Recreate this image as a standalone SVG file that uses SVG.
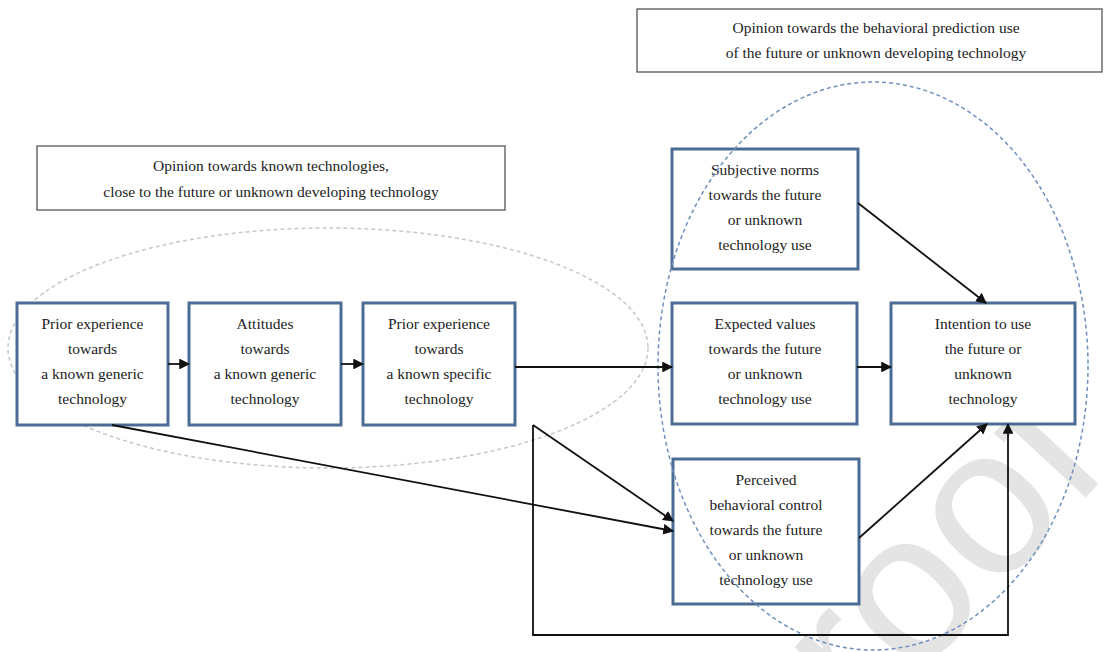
<svg xmlns="http://www.w3.org/2000/svg" width="1106" height="652" viewBox="0 0 1106 652">
<defs>
<style>
.node{fill:#ffffff;stroke:#4d6c95;stroke-width:3}
.hdr{fill:#ffffff;stroke:#555555;stroke-width:1.3}
.t{font-family:"Liberation Serif","Times New Roman",serif;font-size:15.5px;fill:#222222;text-anchor:middle}
.c{fill:none;stroke:#111111;stroke-width:1.8}
.wm{font-family:"Liberation Sans",Arial,sans-serif;font-size:210px;fill:#e4e4e4}
</style>
<marker id="ah" viewBox="0 0 10 10" refX="9" refY="5" markerWidth="6" markerHeight="6" orient="auto" markerUnits="strokeWidth">
<path d="M0,0 L10,5 L0,10 z" fill="#111111"/>
</marker>
</defs>
<rect width="1106" height="652" fill="#ffffff"/>
<text class="wm" transform="translate(866,733) rotate(-47)">roof</text>

<g id="group-known">
<rect class="hdr" x="37" y="146" width="468" height="64"/>
<text class="t" x="271" y="171">Opinion towards known technologies,</text>
<text class="t" x="271" y="197">close to the future or unknown developing technology</text>
<ellipse cx="328" cy="348" rx="320" ry="120" fill="none" stroke="#c4c8cc" stroke-width="1.5" stroke-dasharray="4 3"/>
</g>

<g id="group-future">
<rect class="hdr" x="637" y="9" width="465" height="63"/>
<text class="t" x="876" y="33">Opinion towards the behavioral prediction use</text>
<text class="t" x="876" y="58">of the future or unknown developing technology</text>
</g>

<g id="n1">
<rect class="node" x="17" y="303" width="151" height="122"/>
<text class="t" x="92.5" y="329">Prior experience</text>
<text class="t" x="92.5" y="354">towards</text>
<text class="t" x="92.5" y="379">a known generic</text>
<text class="t" x="92.5" y="404">technology</text>
</g>
<g id="n2">
<rect class="node" x="189" y="303" width="152" height="122"/>
<text class="t" x="265" y="329">Attitudes</text>
<text class="t" x="265" y="354">towards</text>
<text class="t" x="265" y="379">a known generic</text>
<text class="t" x="265" y="404">technology</text>
</g>
<g id="n3">
<rect class="node" x="363" y="303" width="152" height="122"/>
<text class="t" x="439" y="329">Prior experience</text>
<text class="t" x="439" y="354">towards</text>
<text class="t" x="439" y="379">a known specific</text>
<text class="t" x="439" y="404">technology</text>
</g>
<g id="n4">
<rect class="node" x="672" y="149" width="186" height="120"/>
<text class="t" x="765" y="175">Subjective norms</text>
<text class="t" x="765" y="200">towards the future</text>
<text class="t" x="765" y="225">or unknown</text>
<text class="t" x="765" y="250">technology use</text>
</g>
<g id="n5">
<rect class="node" x="672" y="303" width="185" height="121"/>
<text class="t" x="765" y="329">Expected values</text>
<text class="t" x="765" y="354">towards the future</text>
<text class="t" x="765" y="379">or unknown</text>
<text class="t" x="765" y="404">technology use</text>
</g>
<g id="n6">
<rect class="node" x="673" y="459" width="186" height="145"/>
<text class="t" x="766" y="485">Perceived</text>
<text class="t" x="766" y="510">behavioral control</text>
<text class="t" x="766" y="535">towards the future</text>
<text class="t" x="766" y="560">or unknown</text>
<text class="t" x="766" y="585">technology use</text>
</g>
<g id="n7">
<rect class="node" x="891" y="303" width="184" height="121"/>
<text class="t" x="983" y="329">Intention to use</text>
<text class="t" x="983" y="354">the future or</text>
<text class="t" x="983" y="379">unknown</text>
<text class="t" x="983" y="404">technology</text>
</g>

<ellipse id="ellipse-future" cx="873" cy="366" rx="215" ry="284" fill="none" stroke="#6f8fbf" stroke-width="1.5" stroke-dasharray="4 3"/>

<g id="connectors">
<line class="c" x1="168" y1="364" x2="189" y2="364" marker-end="url(#ah)"/>
<line class="c" x1="341" y1="364" x2="363" y2="364" marker-end="url(#ah)"/>
<line class="c" x1="515" y1="367" x2="672" y2="367" marker-end="url(#ah)"/>
<line class="c" x1="857" y1="367" x2="891" y2="367" marker-end="url(#ah)"/>
<line class="c" x1="858" y1="203" x2="986" y2="303" marker-end="url(#ah)"/>
<line class="c" x1="859" y1="538" x2="987" y2="424" marker-end="url(#ah)"/>
<line class="c" x1="112" y1="425" x2="673" y2="531" marker-end="url(#ah)"/>
<line class="c" x1="533" y1="425" x2="673" y2="521" marker-end="url(#ah)"/>
<polyline class="c" points="533,425 533,635 1008,635 1008,424" marker-end="url(#ah)"/>
</g>
</svg>
